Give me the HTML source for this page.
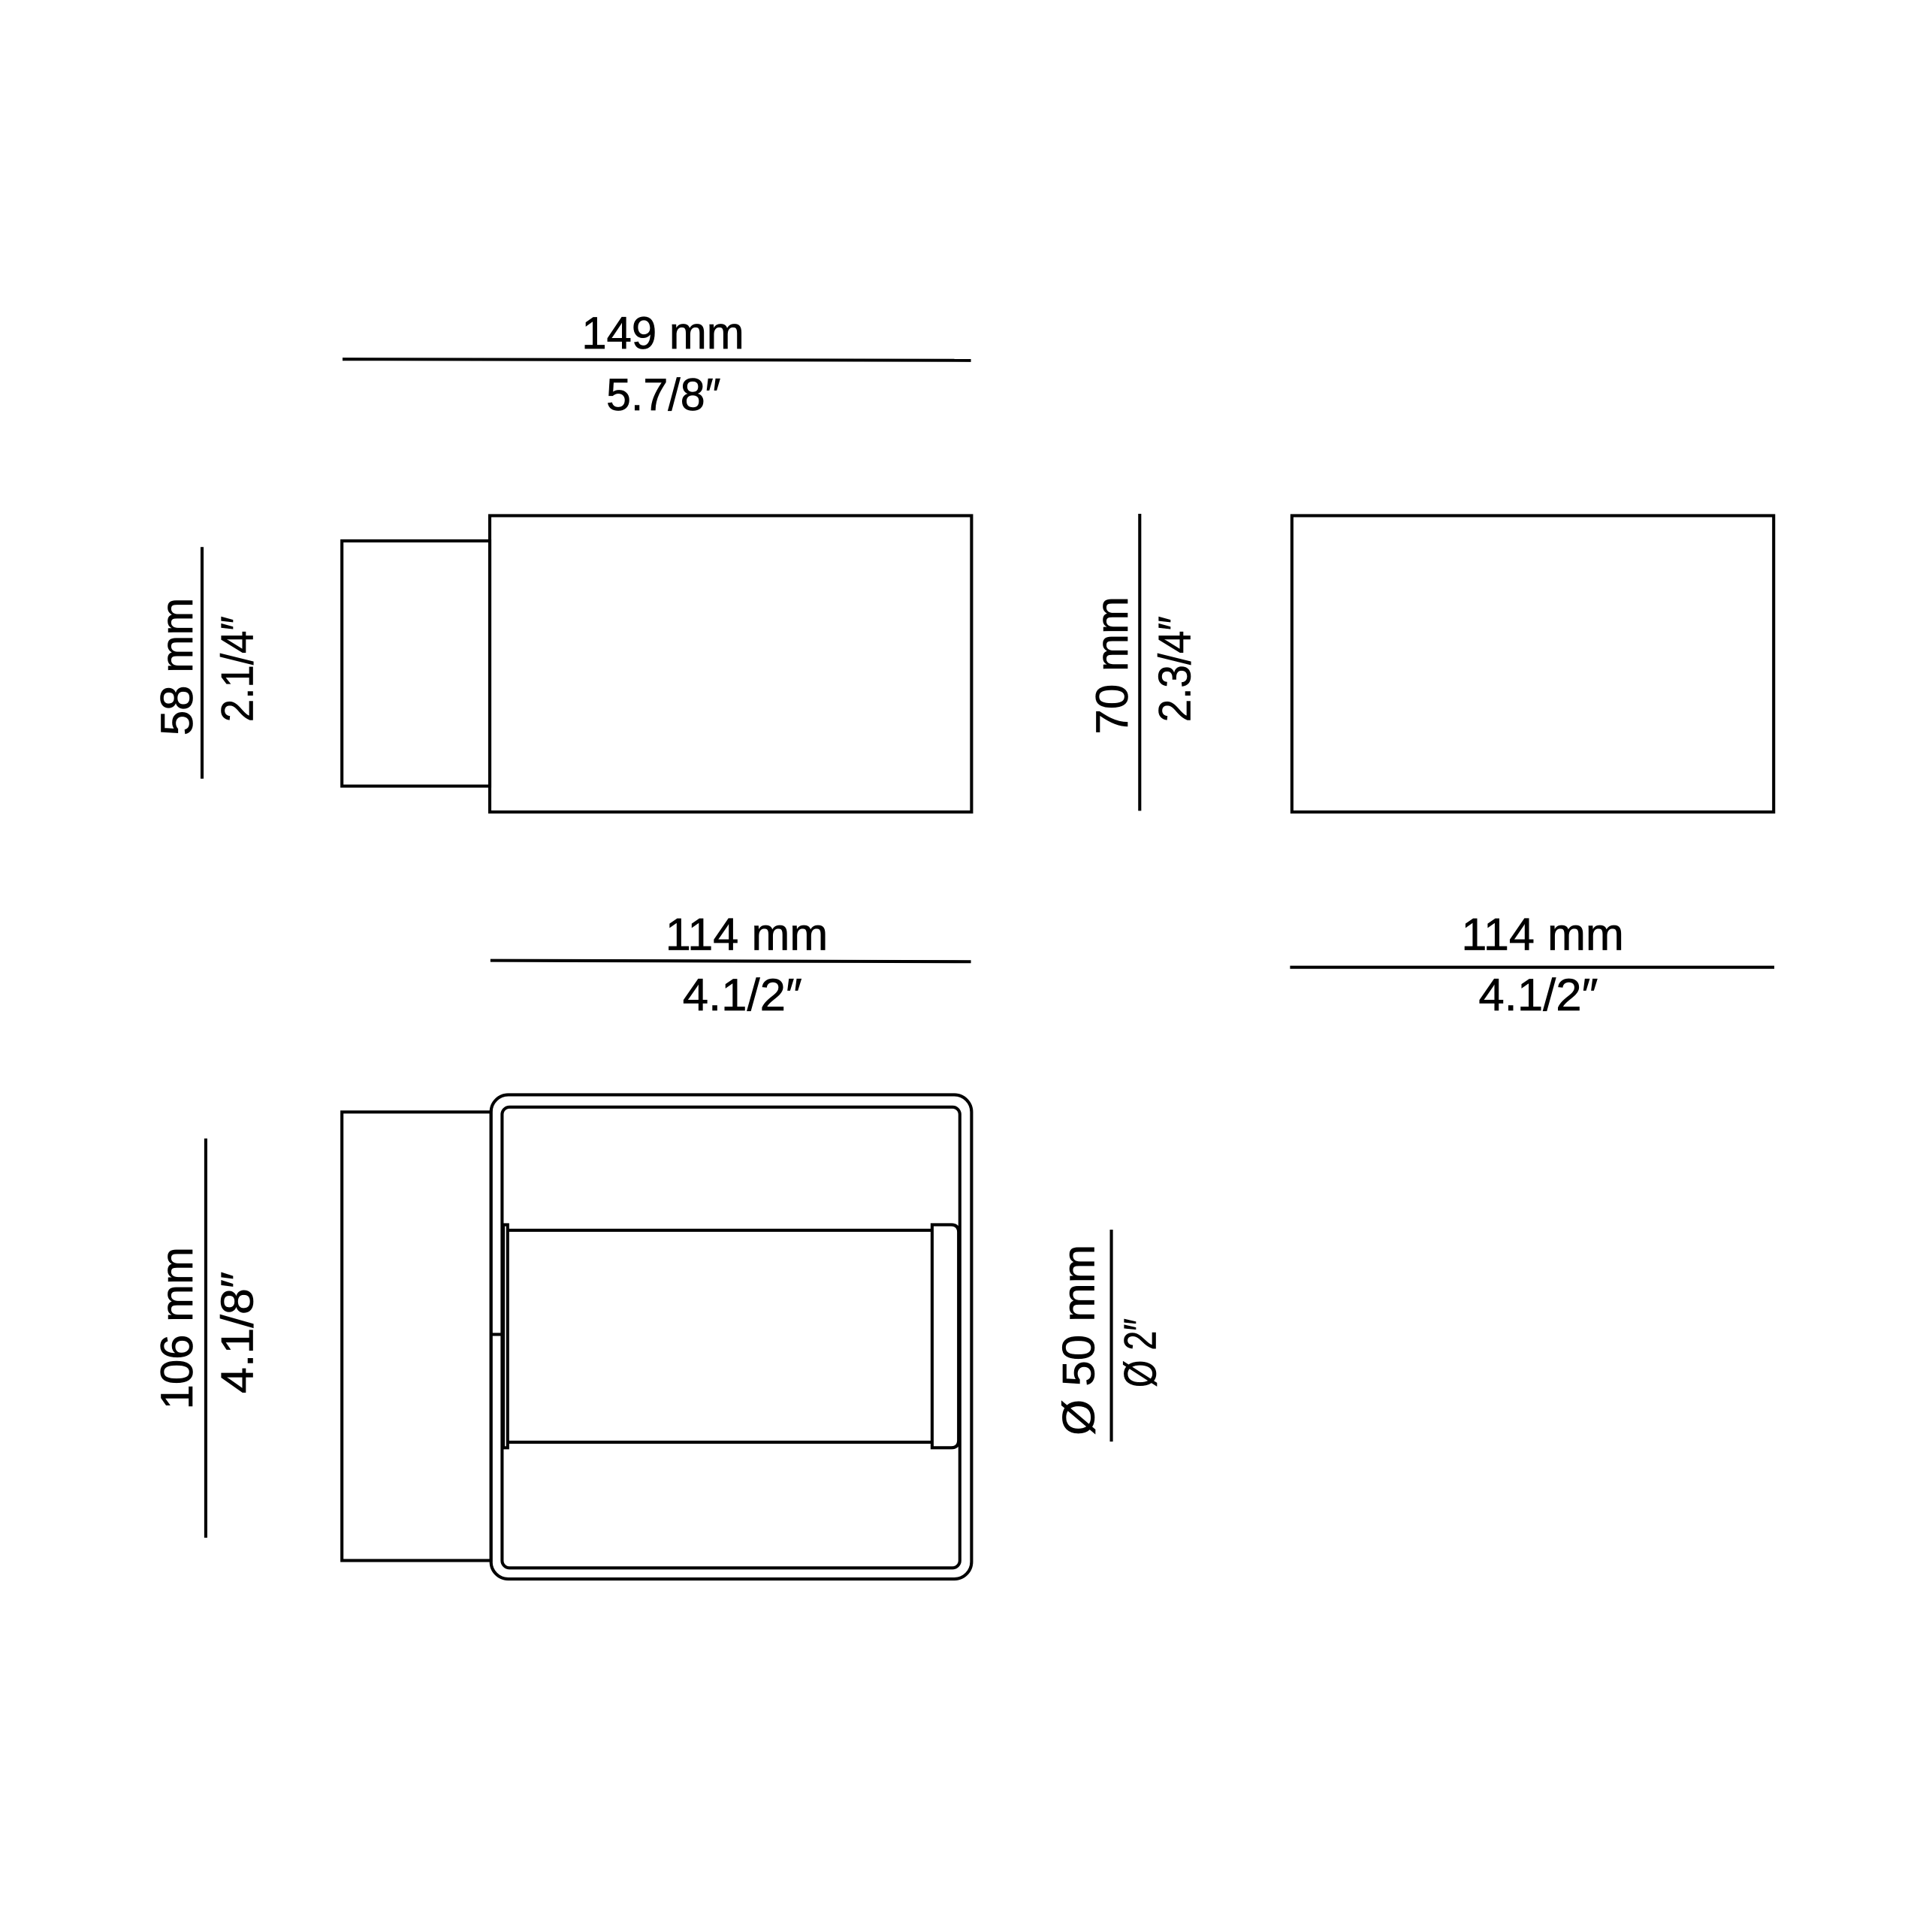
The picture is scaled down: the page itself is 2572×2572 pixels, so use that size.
<!DOCTYPE html>
<html><head><style>html,body{margin:0;padding:0;background:#fff}svg{display:block}</style></head>
<body>
<svg width="2572" height="2572" viewBox="0 0 1568 1568" xmlns="http://www.w3.org/2000/svg">
<rect width="1568" height="1568" fill="#fff"/>
<g fill="none" stroke="#000" stroke-width="2.5">
<rect x="277.5" y="439" width="120" height="199"/>
<rect x="397.5" y="418.5" width="391" height="240.5"/>
<rect x="1048.5" y="418.5" width="391" height="240.5"/>
<rect x="277.5" y="902.5" width="121" height="364"/>
<rect x="398.5" y="888.5" width="390" height="393" rx="14"/>
<rect x="407.5" y="898.5" width="371.5" height="374" rx="6"/>
<line x1="412" y1="998.5" x2="756" y2="998.5"/>
<line x1="412" y1="1170.5" x2="756" y2="1170.5"/>
<rect x="408.5" y="994" width="3.5" height="181"/>
<path d="M756.5 994 H772 Q778 994 778 1000 V1169 Q778 1175 772 1175 H756.5 Z"/>
<line x1="398.5" y1="1083" x2="408" y2="1083"/>
<line x1="278" y1="291.5" x2="788" y2="292.5"/>
<line x1="398" y1="779.5" x2="788" y2="780.5"/>
<line x1="1047" y1="785" x2="1440" y2="785"/>
<line x1="164" y1="444" x2="164" y2="632"/>
<line x1="925" y1="417" x2="925" y2="658"/>
<line x1="167" y1="924" x2="167" y2="1248"/>
<line x1="902" y1="998" x2="902" y2="1170"/>
</g>
<g font-family="Liberation Sans, sans-serif" font-size="37" fill="#000" text-anchor="middle" stroke="#000" stroke-width="0.4">
<text x="538" y="283" textLength="132" lengthAdjust="spacingAndGlyphs">149 mm</text>
<text x="538.5" y="333" textLength="93" lengthAdjust="spacingAndGlyphs">5.7/8″</text>
<text x="606" y="771" textLength="132" lengthAdjust="spacingAndGlyphs">114 mm</text>
<text x="602.5" y="820" textLength="97" lengthAdjust="spacingAndGlyphs">4.1/2″</text>
<text x="1252" y="771" textLength="132" lengthAdjust="spacingAndGlyphs">114 mm</text>
<text x="1248.5" y="820" textLength="97" lengthAdjust="spacingAndGlyphs">4.1/2″</text>
<text transform="translate(156,541) rotate(-90)" textLength="112" lengthAdjust="spacingAndGlyphs">58 mm</text>
<text transform="translate(205,543) rotate(-90)" textLength="86" lengthAdjust="spacingAndGlyphs">2.1/4″</text>
<text transform="translate(915,540) rotate(-90)" textLength="112" lengthAdjust="spacingAndGlyphs">70 mm</text>
<text transform="translate(966,543) rotate(-90)" textLength="86" lengthAdjust="spacingAndGlyphs">2.3/4″</text>
<text transform="translate(156,1078) rotate(-90)" textLength="132" lengthAdjust="spacingAndGlyphs">106 mm</text>
<text transform="translate(205,1081.5) rotate(-90)" textLength="99" lengthAdjust="spacingAndGlyphs">4.1/8″</text>
<text transform="translate(888,1087.5) rotate(-90)" textLength="155" lengthAdjust="spacingAndGlyphs">Ø 50 mm</text>
<text transform="translate(938,1098) rotate(-90)" textLength="56" lengthAdjust="spacingAndGlyphs">Ø 2″</text>
</g>
</svg>
</body></html>
